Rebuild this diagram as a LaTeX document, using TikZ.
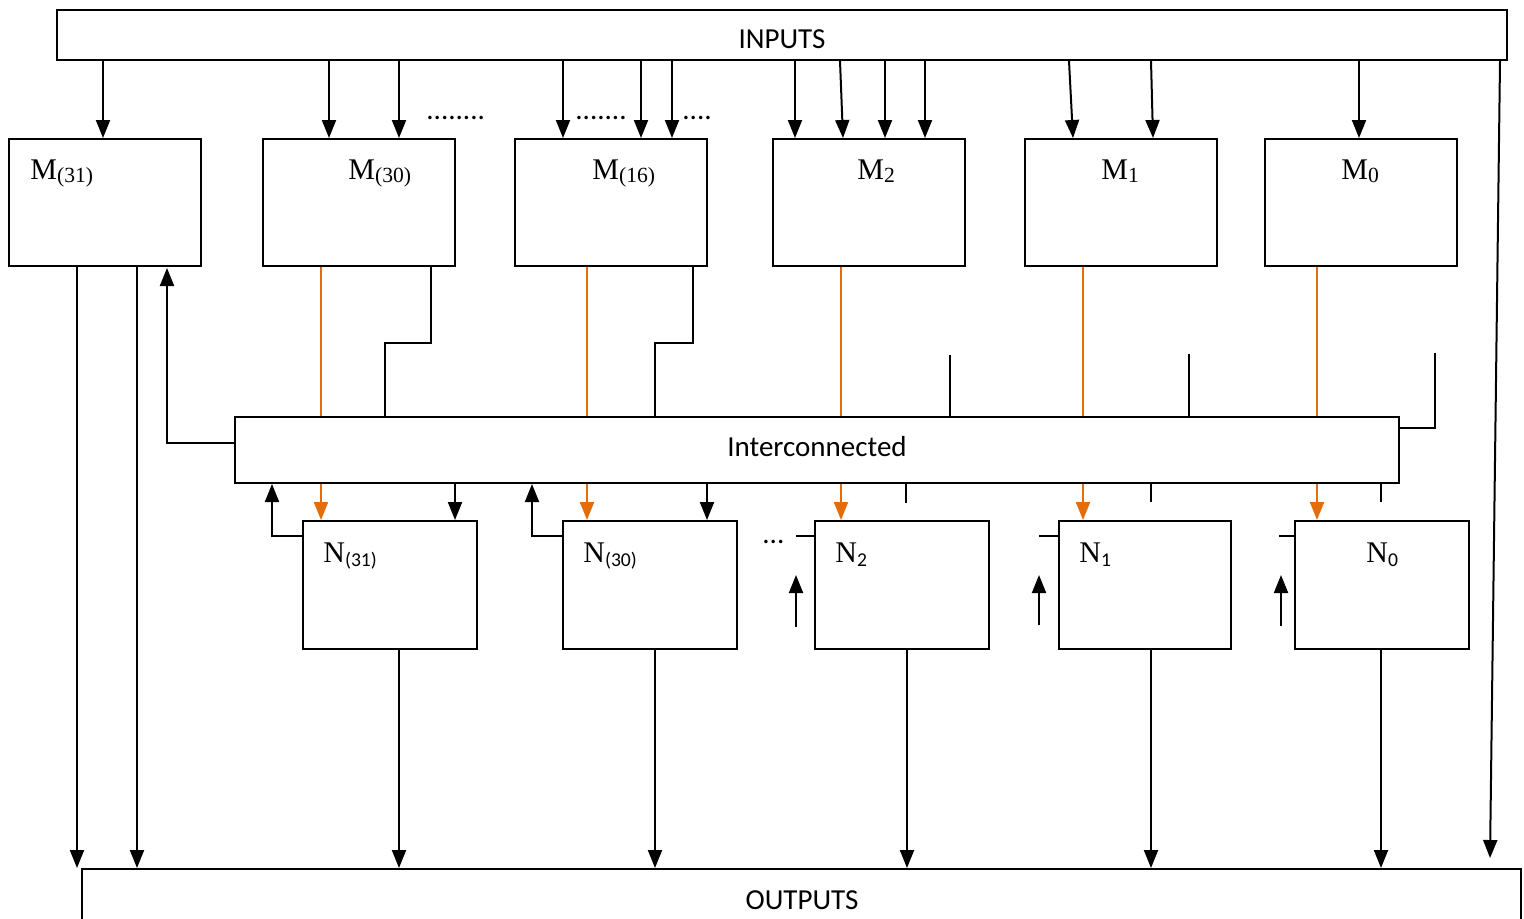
\documentclass[tikz,border=0pt]{standalone}
\usepackage{fontspec}
\setmainfont{Liberation Serif}
\newfontfamily\sansf{Carlito}
\usetikzlibrary{arrows.meta,fit}
\definecolor{org}{RGB}{228,108,10}
\newcommand\msub[1]{\raisebox{-1.5pt}{\fontsize{10.8}{12}\selectfont #1}}
\newcommand\nsub[1]{\raisebox{-2pt}{\sansf\fontsize{9.8}{12}\selectfont #1}}
\begin{document}
\begin{tikzpicture}[x=0.5pt,y=-0.5pt,
 box/.style={draw, line width=1pt, inner sep=0pt},
 ln/.style={line width=1pt},
 arr/.style={ln, -{Triangle[length=9pt,width=7pt]}},
 oln/.style={ln, draw=org},
 oarr/.style={arr, draw=org, fill=org},
 lab/.style={font=\fontsize{15}{17}\selectfont, anchor=base west, inner sep=0pt},
 slab/.style={font=\sansf\fontsize{14.5}{16}\selectfont, inner sep=0pt},
 dots/.style={font=\sansf\fontsize{14.5}{16}\selectfont, anchor=base west, inner sep=0pt},
]
\path[use as bounding box, clip] (0,0) rectangle (1524,918);
\fill[white] (0,0) rectangle (1524,918);

% main boxes
\node[box, fit={(57,10) (1507,60)}] (in) {};
\node[slab] (tin) at (782,39) {INPUTS};
\node[box, fit={(82,869) (1521,960)}] (out) {};
\node[slab] (tout) at (802,900) {OUTPUTS};
\node[box, fit={(235,417) (1399,483)}] (ic) {};
\node[slab] (tic) at (817,447) {Interconnected};

% M boxes
\node[box, fit={(9,139) (201,266)}] (m31) {};
\node[box, fit={(263,139) (455,266)}] (m30) {};
\node[box, fit={(515,139) (707,266)}] (m16) {};
\node[box, fit={(773,139) (965,266)}] (m2) {};
\node[box, fit={(1025,139) (1217,266)}] (m1) {};
\node[box, fit={(1265,139) (1457,266)}] (m0) {};
\node[lab] (lm31) at (30,179) {M\msub{(31)}};
\node[lab] (lm30) at (348,179) {M\msub{(30)}};
\node[lab] (lm16) at (592,179) {M\msub{(16)}};
\node[lab] (lm2) at (857,179) {M\msub{2}};
\node[lab] (lm1) at (1101,179) {M\msub{1}};
\node[lab] (lm0) at (1341,179) {M\msub{0}};

% N boxes
\node[box, fit={(303,521) (477,649)}] (n31) {};
\node[box, fit={(563,521) (737,649)}] (n30) {};
\node[box, fit={(815,521) (989,649)}] (n2) {};
\node[box, fit={(1059,521) (1231,649)}] (n1) {};
\node[box, fit={(1295,521) (1469,649)}] (n0) {};
\node[lab] (ln31) at (323,562) {N\nsub{(31)}};
\node[lab] (ln30) at (583,562) {N\nsub{(30)}};
\node[lab] (ln2) at (835,562) {N\nsub{2}};
\node[lab] (ln1) at (1079,562) {N\nsub{1}};
\node[lab] (ln0) at (1366,562) {N\nsub{0}};

% dots
\node[dots] (d1) at (426,119) {........};
\node[dots] (d2) at (575,119) {.......};
\node[dots] (d3) at (682,119) {....};
\node[dots] (d4) at (762,543) {...};

% input arrows
\draw[arr] (103,0 |- in.south) -- (103,0 |- m31.north);
\draw[arr] (329,0 |- in.south) -- (329,0 |- m30.north);
\draw[arr] (399,0 |- in.south) -- (399,0 |- m30.north);
\draw[arr] (563,0 |- in.south) -- (563,0 |- m16.north);
\draw[arr] (641,0 |- in.south) -- (641,0 |- m16.north);
\draw[arr] (672,0 |- in.south) -- (672,0 |- m16.north);
\draw[arr] (795,0 |- in.south) -- (795,0 |- m2.north);
\draw[arr] (840,0 |- in.south) -- (843,0 |- m2.north);
\draw[arr] (885,0 |- in.south) -- (885,0 |- m2.north);
\draw[arr] (925,0 |- in.south) -- (925,0 |- m2.north);
\draw[arr] (1069,0 |- in.south) -- (1073,0 |- m1.north);
\draw[arr] (1151,0 |- in.south) -- (1153,0 |- m1.north);
\draw[arr] (1359,0 |- in.south) -- (1359,0 |- m0.north);
\coordinate (rend) at (1490,858);
\draw[arr] (1500,0 |- in.south) -- (rend);

% M31 outputs and feedback
\draw[arr] (77,0 |- m31.south) -- (77,0 |- out.north);
\draw[arr] (137,0 |- m31.south) -- (137,0 |- out.north);
\draw[arr] (ic.west |- 0,443) -- (167,443) -- (167,268);

% orange links M -> ic -> N
\draw[oln] (321,0 |- m30.south) -- (321,0 |- ic.north);
\draw[oln] (587,0 |- m16.south) -- (587,0 |- ic.north);
\draw[oln] (841,0 |- m2.south) -- (841,0 |- ic.north);
\draw[oln] (1083,0 |- m1.south) -- (1083,0 |- ic.north);
\draw[oln] (1317,0 |- m0.south) -- (1317,0 |- ic.north);
\draw[oarr] (321,0 |- ic.south) -- (321,0 |- n31.north);
\draw[oarr] (587,0 |- ic.south) -- (587,0 |- n30.north);
\draw[oarr] (841,0 |- ic.south) -- (841,0 |- n2.north);
\draw[oarr] (1083,0 |- ic.south) -- (1083,0 |- n1.north);
\draw[oarr] (1317,0 |- ic.south) -- (1317,0 |- n0.north);

% stepped black links
\draw[ln] (431,0 |- m30.south) -- (431,343) -- (385,343) -- (385,0 |- ic.north);
\draw[ln] (693,0 |- m16.south) -- (693,343) -- (655,343) -- (655,0 |- ic.north);
\coordinate (s1) at (950,355);
\coordinate (s2) at (1189,354);
\coordinate (s3) at (1435,353);
\draw[ln] (s1) -- (950,0 |- ic.north);
\draw[ln] (s2) -- (1189,0 |- ic.north);
\draw[ln] (s3) -- (1435,428) -- (ic.east |- 0,428);

% below ic
\draw[arr] (455,0 |- ic.south) -- (455,0 |- n31.north);
\draw[arr] (707,0 |- ic.south) -- (707,0 |- n30.north);
\draw[arr] (n31.west |- 0,536) -- (272,536) -- (272,0 |- ic.south);
\draw[arr] (n30.west |- 0,536) -- (532,536) -- (532,0 |- ic.south);
\coordinate (b1) at (906,503);
\coordinate (b2) at (1151,502);
\coordinate (b3) at (1381,502);
\draw[ln] (906,0 |- ic.south) -- (b1);
\draw[ln] (1151,0 |- ic.south) -- (b2);
\draw[ln] (1381,0 |- ic.south) -- (b3);
\coordinate (t2) at (796,536);
\coordinate (t1) at (1039,536);
\coordinate (t0) at (1279,536);
\draw[ln] (t2) -- (n2.west |- t2);
\draw[ln] (t1) -- (n1.west |- t1);
\draw[ln] (t0) -- (n0.west |- t0);
\coordinate (u2a) at (796,627); \coordinate (u2b) at (796,575);
\coordinate (u1a) at (1039,625); \coordinate (u1b) at (1039,575);
\coordinate (u0a) at (1281,626); \coordinate (u0b) at (1281,575);
\draw[arr] (u2a) -- (u2b);
\draw[arr] (u1a) -- (u1b);
\draw[arr] (u0a) -- (u0b);

% N outputs
\draw[arr] (399,0 |- n31.south) -- (399,0 |- out.north);
\draw[arr] (655,0 |- n30.south) -- (655,0 |- out.north);
\draw[arr] (907,0 |- n2.south) -- (907,0 |- out.north);
\draw[arr] (1151,0 |- n1.south) -- (1151,0 |- out.north);
\draw[arr] (1381,0 |- n0.south) -- (1381,0 |- out.north);
\end{tikzpicture}
\end{document}
